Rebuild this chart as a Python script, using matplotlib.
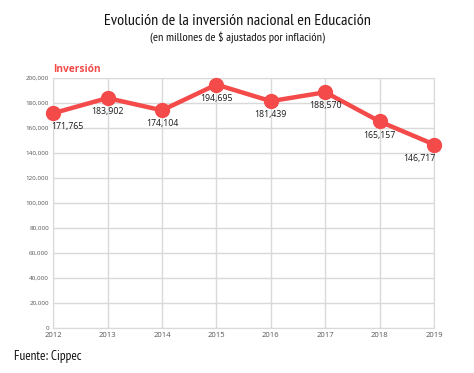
import matplotlib.pyplot as plt

years = [2012, 2013, 2014, 2015, 2016, 2017, 2018, 2019]
inversion = [171765, 183902, 174104, 194695, 181439, 188570, 165157, 146717]
y_ticks = list(range(0, 200001, 20000))

narrow = ['PT Sans Narrow', 'DejaVu Sans']
red = '#f44a4a'

fig = plt.figure(figsize=(4.74, 3.73), dpi=100)
ax = fig.add_axes([0.112, 0.121, 0.804, 0.670])

ax.plot(years, inversion, color=red, lw=3.2, marker='o', markersize=10, zorder=3, clip_on=False)

for i, (x, y) in enumerate(zip(years, inversion)):
    ha = 'center'
    dx = 0
    if i == 0:
        ha, dx = 'left', -1
    elif i == len(years) - 1:
        ha, dx = 'right', 1
    ax.annotate(f'{y:,}', (x, y), xytext=(dx, -6.5), textcoords='offset points',
                ha=ha, va='top', fontsize=6.3, color='#1a1a1a', family='Open Sans',
                zorder=4)

ax.set_xlim(2012, 2019)
ax.set_ylim(0, 200000)
ax.set_xticks(years)
ax.set_yticks(y_ticks)
ax.set_yticklabels([f'{v:,}' for v in y_ticks])
ax.tick_params(axis='both', length=0, labelsize=4.5, colors='#555555')
ax.tick_params(axis='x', labelsize=5.5, pad=3)
ax.tick_params(axis='y', pad=3)
for lbl in ax.get_xticklabels() + ax.get_yticklabels():
    lbl.set_family('Open Sans')
ax.grid(True, color='#d9d9d9', lw=1)
ax.set_axisbelow(True)
for s in ax.spines.values():
    s.set_color('#d9d9d9')

ax.text(0.0, 1.012, 'Inversión', transform=ax.transAxes, color=red,
        fontsize=7.3, fontweight='bold', ha='left', va='bottom', family='Open Sans')

fig.text(0.5, 0.945, 'Evolución de la inversión nacional en Educación',
         family=narrow, fontsize=11.5, ha='center', va='center', color='#111111')
fig.text(0.5, 0.897, '(en millones de $ ajustados por inflación)',
         family=narrow, fontsize=8.7, ha='center', va='center', color='#111111')
fig.text(0.03, 0.043, 'Fuente: Cippec', family=narrow, fontsize=9.5,
         ha='left', va='center', color='#111111')

fig.savefig('out.png', dpi=100)
